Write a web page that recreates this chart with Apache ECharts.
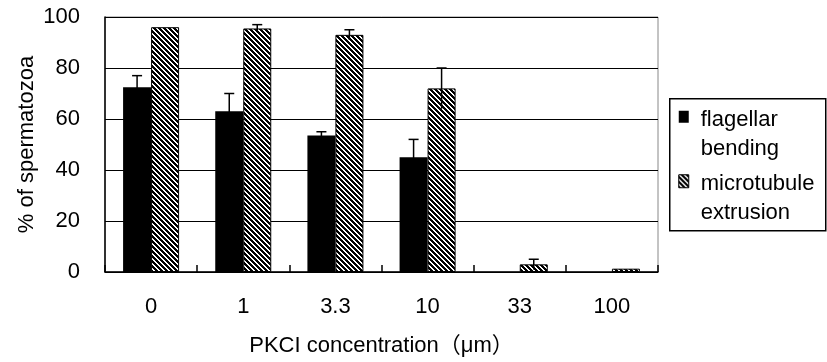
<!DOCTYPE html>
<html>
<head>
<meta charset="utf-8">
<script src="https://cdn.jsdelivr.net/npm/echarts@6/dist/echarts.min.js"></script>
<style>
  html, body { margin: 0; padding: 0; background: #fff; }
  #chart { width: 827px; height: 362px; }
</style>
</head>
<body>
<div id="chart"></div>
<script>
// PKCI dose series: percentage of spermatozoa per concentration
const categories = ['0', '1', '3.3', '10', '33', '100'];
const seriesNames = ['flagellar\nbending', 'microtubule\nextrusion'];
const flagellar = [72.5, 63, 53.5, 45, 0, 0];
const flagellarErr = [4.5, 7, 1.5, 7, 0, 0];
const microtubule = [96, 95.5, 93, 72, 3, 1.3];
const microtubuleErr = [0, 1.5, 2, 8, 2, 0];
const yTicks = [0, 20, 40, 60, 80, 100];

const FONT = "'Liberation Sans', 'Noto Sans CJK JP', sans-serif";
const BAR_W = 28;

// diagonal hatch tile ("\" stripes)
function makeHatch() {
  const n = 5;
  const c = document.createElement('canvas');
  c.width = n; c.height = n;
  const ctx = c.getContext('2d');
  ctx.fillStyle = '#fff';
  ctx.fillRect(0, 0, n, n);
  ctx.fillStyle = '#000';
  for (let y = 0; y < n; y++) {
    for (let x = 0; x < n; x++) {
      if (((x - y) % n + n) % n < 3) ctx.fillRect(x, y, 1, 1);
    }
  }
  return c;
}
const hatch = { image: makeHatch(), repeat: 'repeat' };

function errorRenderer(offset) {
  return function (params, api) {
    const i = api.value(0), v = api.value(1), e = api.value(2);
    if (!e) return null;
    const top = api.coord([i, v + e]);
    const bot = api.coord([i, v - e]);
    const x = top[0] + offset;
    const style = { stroke: '#000', lineWidth: 1.5 };
    return {
      type: 'group',
      children: [
        { type: 'line', shape: { x1: x, y1: top[1], x2: x, y2: bot[1] }, style },
        { type: 'line', shape: { x1: x - 5, y1: top[1], x2: x + 5, y2: top[1] }, style }
      ]
    };
  };
}

const chart = echarts.init(document.getElementById('chart'), null, { renderer: 'canvas' });

const option = {
  backgroundColor: '#fff',
  animation: false,
  textStyle: { fontFamily: FONT, color: '#000' },
  grid: {
    left: 105, right: 169, top: 17, bottom: 89,
    show: true, borderColor: '#888', borderWidth: 1, backgroundColor: '#fff'
  },
  xAxis: {
    type: 'category',
    data: categories,
    boundaryGap: true,
    name: 'PKCI concentration（μm）',
    nameLocation: 'middle',
    nameGap: 63,
    nameTextStyle: { fontFamily: FONT, fontSize: 22, color: '#000' },
    axisLine: { lineStyle: { color: '#000', width: 1.5 } },
    axisTick: { show: true, inside: true, length: 7, alignWithLabel: false, lineStyle: { color: '#000', width: 1.5 } },
    axisLabel: { margin: 24, fontFamily: FONT, fontSize: 22, color: '#000' },
    splitLine: { show: false }
  },
  yAxis: {
    type: 'value',
    min: yTicks[0],
    max: yTicks[yTicks.length - 1],
    interval: yTicks[1] - yTicks[0],
    name: '% of spermatozoa',
    nameLocation: 'middle',
    nameGap: 67,
    nameMoveOverlap: false,
    nameTextStyle: { fontFamily: FONT, fontSize: 22, color: '#000' },
    axisLine: { show: true, lineStyle: { color: '#000', width: 1.5 } },
    axisTick: { show: false },
    axisLabel: { margin: 25, fontFamily: FONT, fontSize: 22, color: '#000' },
    splitLine: { show: true, lineStyle: { color: '#000', width: 1.2 } }
  },
  series: [
    {
      name: seriesNames[0],
      type: 'bar',
      data: flagellar,
      barWidth: BAR_W,
      barGap: '0%',
      itemStyle: { color: '#000', borderWidth: 0 },
      z: 2
    },
    {
      name: seriesNames[1],
      type: 'bar',
      data: microtubule,
      barWidth: BAR_W,
      barGap: '0%',
      itemStyle: { color: hatch, borderColor: '#000', borderWidth: 1 },
      z: 2
    },
    {
      type: 'custom',
      renderItem: errorRenderer(-BAR_W / 2),
      data: flagellar.map((v, i) => [i, v, flagellarErr[i]]),
      z: 5, silent: true
    },
    {
      type: 'custom',
      renderItem: errorRenderer(BAR_W / 2),
      data: microtubule.map((v, i) => [i, v, microtubuleErr[i]]),
      z: 5, silent: true
    }
  ],
  graphic: [
    {
      type: 'group',
      left: 669, top: 98,
      children: [
        { type: 'rect', shape: { x: 0, y: 0, width: 156, height: 132 },
          style: { fill: '#fff', stroke: '#000', lineWidth: 1.5 } },
        { type: 'rect', shape: { x: 9, y: 12, width: 10, height: 12 },
          style: { fill: '#000' } },
        { type: 'text', x: 31, y: 6.5,
          style: { text: seriesNames[0], font: '22px ' + FONT, fill: '#000', lineHeight: 29, verticalAlign: 'top' } },
        { type: 'rect', shape: { x: 9, y: 76, width: 10, height: 13 },
          style: { fill: hatch, stroke: '#000', lineWidth: 1 } },
        { type: 'text', x: 31, y: 71,
          style: { text: seriesNames[1], font: '22px ' + FONT, fill: '#000', lineHeight: 29, verticalAlign: 'top' } }
      ]
    }
  ]
};

chart.setOption(option);
</script>
</body>
</html>
